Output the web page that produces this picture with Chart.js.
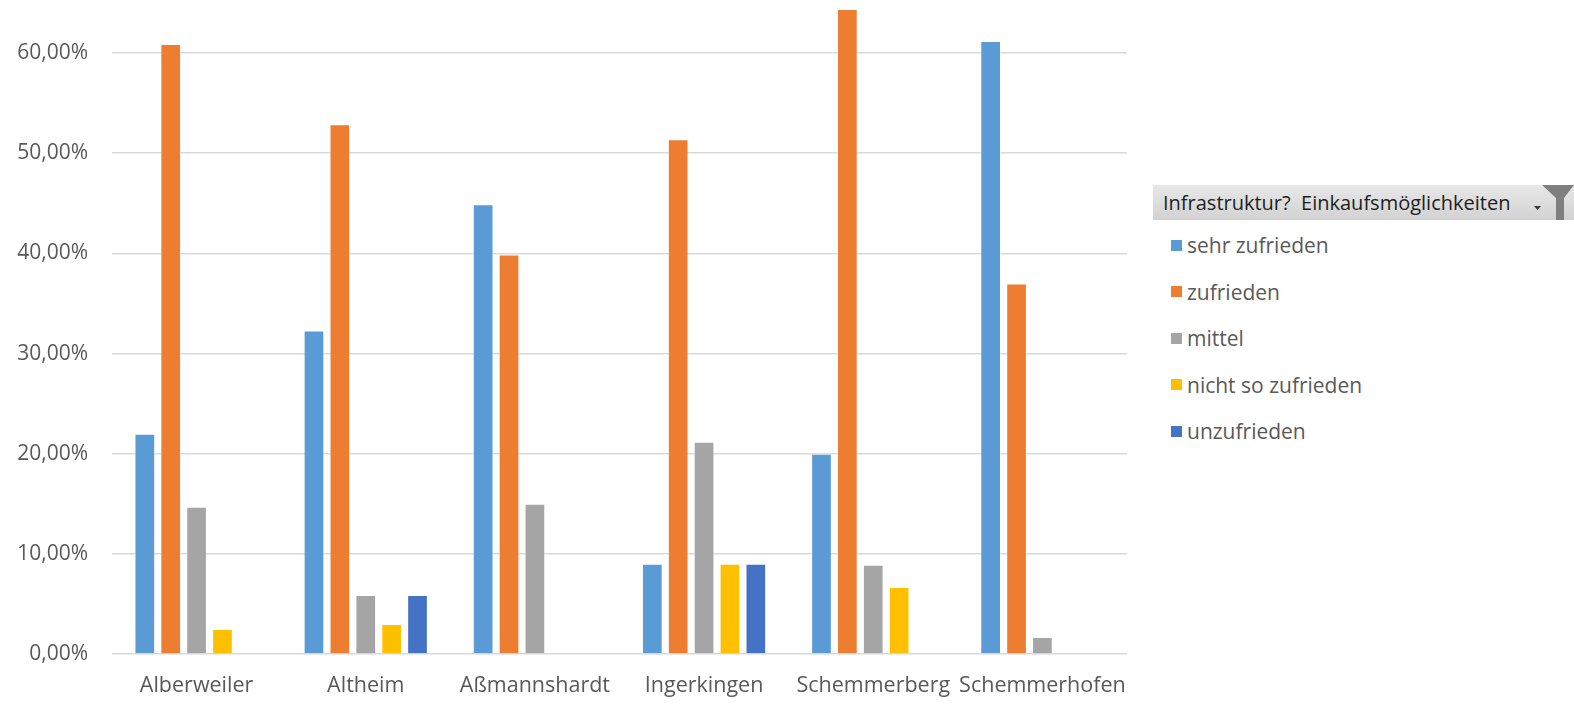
<!DOCTYPE html>
<html lang="de">
<head>
<meta charset="utf-8">
<title>Infrastruktur? Einkaufsmöglichkeiten</title>
<script src="https://cdn.jsdelivr.net/npm/chart.js@4/dist/chart.umd.min.js"></script>
<style>
  html, body { margin: 0; padding: 0; background: #fff; }
  body { width: 1574px; height: 713px; position: relative; overflow: hidden; font-family: "Open Sans", "Noto Sans", sans-serif; }
  #chartBox { position: absolute; left: 0; top: 0; width: 1133px; height: 713px; }
  #legendBox { position: absolute; left: 1153px; top: 185px; width: 421px; }
  .field-btn {
    height: 35px; width: 421px; box-sizing: border-box;
    background: linear-gradient(#e8e8e8, #d2d2d2);
    color: #1e1e1e; font-size: 20px; line-height: 35px; padding-left: 10px;
    position: relative; white-space: pre;
  }
  .field-btn svg { position: absolute; right: 0; top: 0; }
  .leg-item { height: 46.5px; display: flex; align-items: center; color: #595959; font-size: 21px; padding-left: 18px; }
  .leg-box { width: 11px; height: 11px; margin-right: 5px; }
  #items { margin-top: 2px; }
</style>
</head>
<body>
<div id="chartBox"><canvas id="chart"></canvas></div>
<div id="legendBox">
  <div class="field-btn">Infrastruktur?  Einkaufsmöglichkeiten<svg width="42" height="35" viewBox="0 0 42 35">
    <polygon points="2,21 9,21 5.5,25" fill="#3a3a3a"/>
    <polygon points="10,0 42,0 32,13 32,35 24,35 24,13" fill="#7f7f7f"/>
  </svg></div>
  <div id="items"></div>
</div>
<script>
const categories = ['Alberweiler', 'Altheim', 'Aßmannshardt', 'Ingerkingen', 'Schemmerberg', 'Schemmerhofen'];

const seriesNames = ['sehr zufrieden', 'zufrieden', 'mittel', 'nicht so zufrieden', 'unzufrieden'];
const seriesColors = ['#5B9BD5', '#ED7D31', '#A5A5A5', '#FFC000', '#4472C4'];

// values in percent, null = no answer in that group
const sehrZufrieden    = [22.0, 32.3, 44.9, 9.0, 20.0, 61.2];
const zufrieden        = [60.9, 52.9, 39.9, 51.4, 64.4, 37.0];
const mittel           = [14.7, 5.9, 15.0, 21.2, 8.9, 1.7];
const nichtSoZufrieden = [2.5, 3.0, null, 9.0, 6.7, null];
const unzufrieden      = [null, 5.9, null, 9.0, null, null];

const yTicks = [0, 10, 20, 30, 40, 50, 60];
const yMax = 65;

const seriesValues = [sehrZufrieden, zufrieden, mittel, nichtSoZufrieden, unzufrieden];

function fmtPct(v){
  return v.toFixed(2).replace('.', ',') + '%';
}

const datasets = seriesNames.map((name, i) => ({
  label: name,
  data: seriesValues[i],
  backgroundColor: seriesColors[i],
  borderColor: 'rgba(255,255,255,0.45)',
  borderWidth: 1,
  categoryPercentage: 0.765,
  barPercentage: 0.8
}));

const ctx = document.getElementById('chart').getContext('2d');
const chart = new Chart(ctx, {
  type: 'bar',
  data: { labels: categories, datasets },
  options: {
    responsive: true,
    maintainAspectRatio: false,
    animation: false,
    layout: { padding: { left: 0, right: 6, top: 3, bottom: 9 } },
    plugins: {
      legend: { display: false },
      tooltip: { enabled: false }
    },
    scales: {
      x: {
        afterFit: axis => {
          axis.height = 50;
          axis.paddingLeft = 0;
          axis.paddingRight = 0;
        },
        grid: { display: false, drawTicks: false },
        border: { display: false },
        ticks: { color: '#595959', font: { family: '"Open Sans", sans-serif', size: 21.5 }, padding: 19, maxRotation: 0, autoSkip: false }
      },
      y: {
        min: 0,
        max: yMax,
        afterBuildTicks: axis => { axis.ticks = yTicks.map(v => ({ value: v })); },
        afterFit: axis => {
          axis.width = 112;
          axis.paddingTop = 0;
          axis.paddingBottom = 0;
        },
        grid: { color: '#d9d9d9', lineWidth: 1.5, drawTicks: false },
        border: { display: false },
        ticks: {
          color: '#595959',
          font: { family: '"Open Sans", sans-serif', size: 21 },
          padding: 24,
          callback: v => fmtPct(v)
        }
      }
    }
  }
});

// legend built from the chart's datasets
const items = document.getElementById('items');
chart.data.datasets.forEach(ds => {
  const row = document.createElement('div');
  row.className = 'leg-item';
  row.innerHTML = `<span class="leg-box" style="background:${ds.backgroundColor}"></span><span>${ds.label}</span>`;
  items.appendChild(row);
});
</script>
</body>
</html>
